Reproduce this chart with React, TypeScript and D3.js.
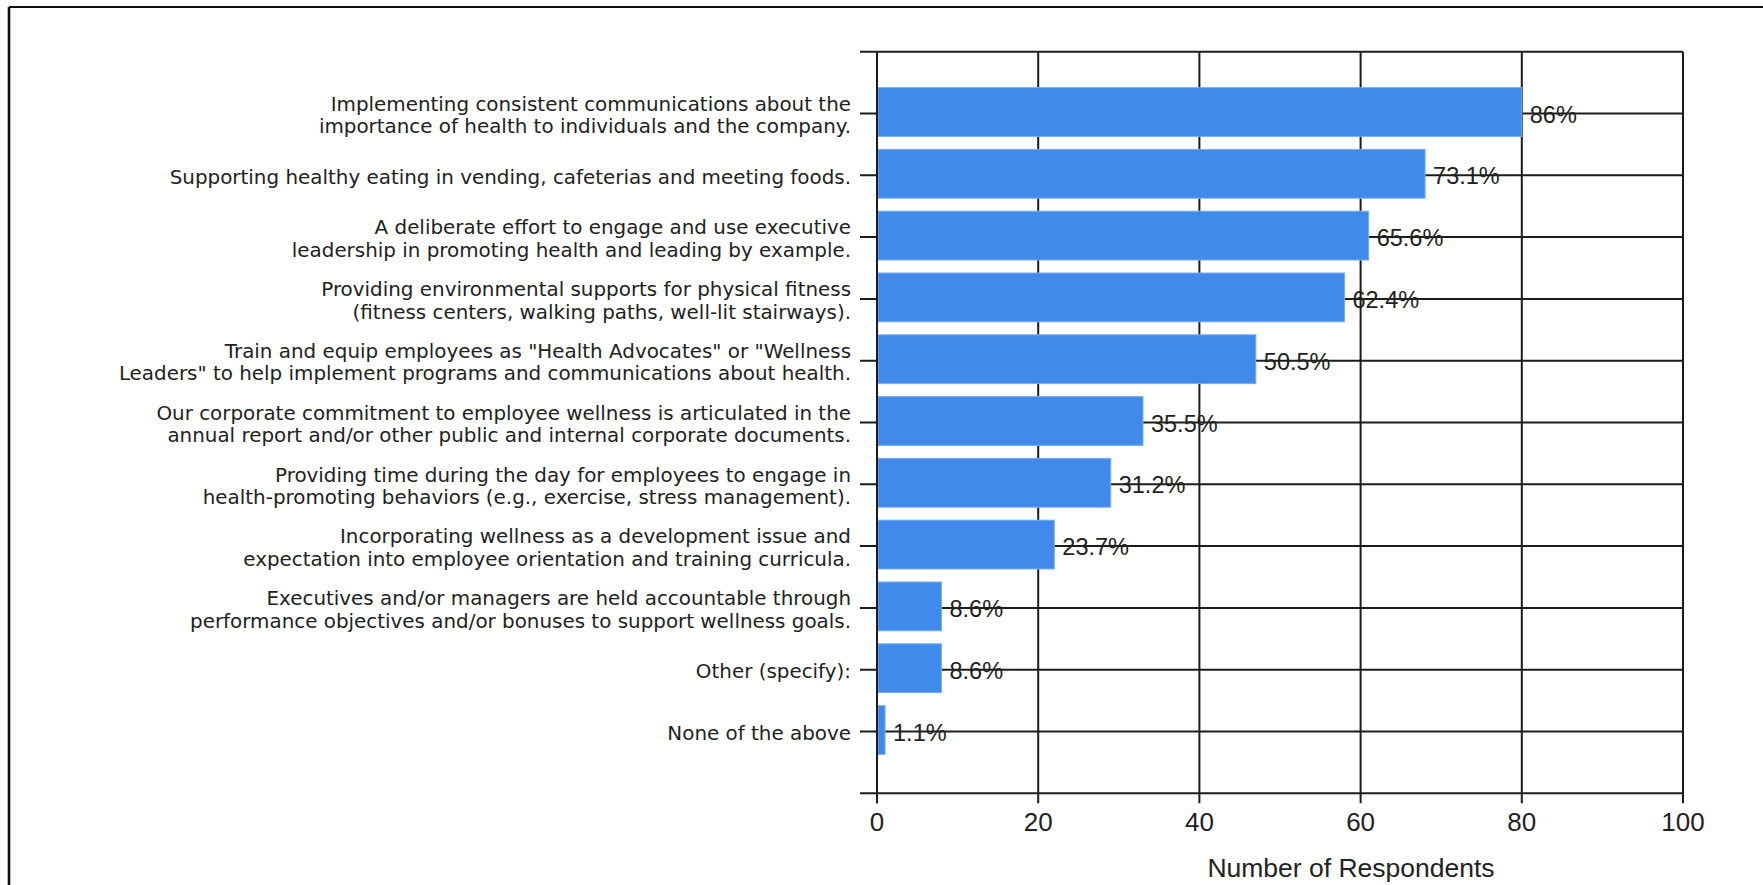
import React from "react";
import * as d3 from "d3";

const categories: string[][] = [
  ["Implementing consistent communications about the", "importance of health to individuals and the company."],
  ["Supporting healthy eating in vending, cafeterias and meeting foods."],
  ["A deliberate effort to engage and use executive", "leadership in promoting health and leading by example."],
  ["Providing environmental supports for physical fitness", "(fitness centers, walking paths, well-lit stairways)."],
  ["Train and equip employees as \"Health Advocates\" or \"Wellness", "Leaders\" to help implement programs and communications about health."],
  ["Our corporate commitment to employee wellness is articulated in the", "annual report and/or other public and internal corporate documents."],
  ["Providing time during the day for employees to engage in", "health-promoting behaviors (e.g., exercise, stress management)."],
  ["Incorporating wellness as a development issue and", "expectation into employee orientation and training curricula."],
  ["Executives and/or managers are held accountable through", "performance objectives and/or bonuses to support wellness goals."],
  ["Other (specify):"],
  ["None of the above"],
];

const respondents: number[] = [80, 68, 61, 58, 47, 33, 29, 22, 8, 8, 1];
const percentLabels: string[] = ["86%", "73.1%", "65.6%", "62.4%", "50.5%", "35.5%", "31.2%", "23.7%", "8.6%", "8.6%", "1.1%"];
const xTicks: number[] = [0, 20, 40, 60, 80, 100];
const xTitle = "Number of Respondents";

const W = 1763;
const H = 885;
const left = 877;
const right = 1683;
const top = 51.7;
const bottom = 793.3;

export default function App() {
  const x = d3.scaleLinear().domain([0, 100]).range([left, right]);
  const idx = categories.map((_, i) => i);
  const y = d3.scalePoint<number>().domain(idx).range([top, bottom]).padding(1);
  const step = y.step();
  const barH = step * 0.79;
  const lineColor = "#1c1c1c";
  const textColor = "#222";
  const catFont = "'DejaVu Sans', sans-serif";
  const numFont = "'Liberation Sans', Arial, sans-serif";

  return (
    <svg
      width={W}
      height={H}
      style={{ position: "absolute", left: 0, top: 0, background: "#fff" }}
    >
      <rect x={0} y={0} width={W} height={H} fill="#fff" />
      {/* frame */}
      <line x1={9} y1={7} x2={W} y2={7} stroke="#111" strokeWidth={2.2} />
      <line x1={9} y1={7} x2={9} y2={H} stroke="#111" strokeWidth={2.6} />

      {/* vertical gridlines with bottom ticks */}
      {xTicks.map((t) => (
        <line key={"v" + t} x1={x(t)} x2={x(t)} y1={top} y2={bottom + 10} stroke={lineColor} strokeWidth={2} />
      ))}
      {/* horizontal lines at boundaries */}
      {[top, bottom].map((yy, i) => (
        <line key={"b" + i} x1={left - 17} x2={right} y1={yy} y2={yy} stroke={lineColor} strokeWidth={2} />
      ))}
      {/* horizontal gridlines at categories */}
      {idx.map((i) => (
        <line key={"h" + i} x1={left - 17} x2={right} y1={y(i)} y2={y(i)} stroke={lineColor} strokeWidth={2} />
      ))}

      {/* bars */}
      {idx.map((i) => (
        <rect
          key={"r" + i}
          x={x(0) + 1}
          y={(y(i) as number) - barH / 2 - 1.5}
          width={x(respondents[i]) - x(0) - 1}
          height={barH}
          fill="#418aeb"
          stroke="#78aef0"
          strokeWidth={1}
        />
      ))}

      {/* axis line */}
      <line x1={left} x2={left} y1={top} y2={bottom + 10} stroke={lineColor} strokeWidth={2} />

      {/* percent labels */}
      {idx.map((i) => (
        <text
          key={"p" + i}
          x={x(respondents[i]) + 8}
          y={(y(i) as number) + 1}
          dominantBaseline="central"
          fontFamily={numFont}
          fontSize={23.5}
          fill={textColor}
        >
          {percentLabels[i]}
        </text>
      ))}

      {/* category labels */}
      {idx.map((i) => {
        const lines = categories[i];
        const n = lines.length;
        return (
          <g key={"c" + i}>
            {lines.map((ln, j) => (
              <text
                key={j}
                x={left - 26}
                y={(y(i) as number) + 2 + (j - (n - 1) / 2) * 22.5}
                textAnchor="end"
                dominantBaseline="central"
                fontFamily={catFont}
                fontSize={19.9}
                fill={textColor}
              >
                {ln}
              </text>
            ))}
          </g>
        );
      })}

      {/* x tick labels */}
      {xTicks.map((t) => (
        <text
          key={"t" + t}
          x={x(t)}
          y={822}
          textAnchor="middle"
          dominantBaseline="central"
          fontFamily={numFont}
          fontSize={26}
          fill={textColor}
        >
          {t}
        </text>
      ))}

      <text
        x={1351}
        y={868}
        textAnchor="middle"
        dominantBaseline="central"
        fontFamily={numFont}
        fontSize={26.5}
        fill={textColor}
      >
        {xTitle}
      </text>
    </svg>
  );
}
